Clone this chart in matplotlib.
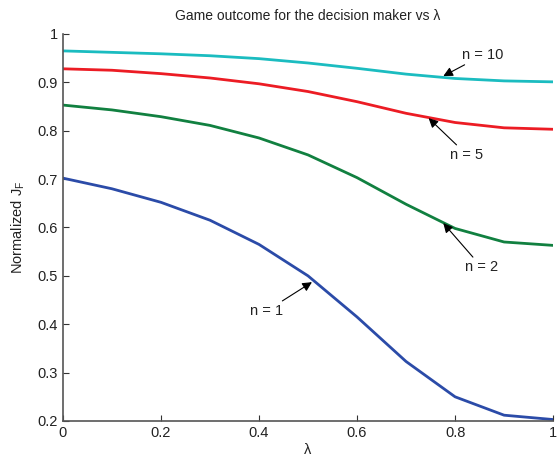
import matplotlib
matplotlib.use("Agg")
import matplotlib.pyplot as plt

plt.rcParams['font.family'] = ['Liberation Sans', 'DejaVu Sans']

lam = [0.0, 0.1, 0.2, 0.3, 0.4, 0.5, 0.6, 0.7, 0.8, 0.9, 1.0]
n10 = [0.965, 0.962, 0.959, 0.955, 0.949, 0.940, 0.929, 0.917, 0.908, 0.903, 0.901]
n5 = [0.928, 0.925, 0.918, 0.909, 0.897, 0.881, 0.860, 0.836, 0.817, 0.806, 0.803]
n2 = [0.853, 0.843, 0.829, 0.811, 0.785, 0.750, 0.703, 0.648, 0.598, 0.570, 0.563]
n1 = [0.702, 0.680, 0.652, 0.615, 0.565, 0.500, 0.415, 0.323, 0.250, 0.212, 0.203]

fig = plt.figure(figsize=(5.57, 4.59), dpi=100)
ax = fig.add_axes([0.113, 0.0828, 0.880, 0.8432])

ax.plot(lam, n10, color='#1bbcc0', lw=2.0)
ax.plot(lam, n5, color='#ec1c24', lw=2.0)
ax.plot(lam, n2, color='#118040', lw=2.0)
ax.plot(lam, n1, color='#2b4ba8', lw=2.0)

ax.set_xlim(0, 1)
ax.set_ylim(0.2, 1)
ax.set_xticks([0, 0.2, 0.4, 0.6, 0.8, 1])
ax.set_xticklabels(['0', '0.2', '0.4', '0.6', '0.8', '1'])
ax.set_yticks([0.2, 0.3, 0.4, 0.5, 0.6, 0.7, 0.8, 0.9, 1])
ax.set_yticklabels(['0.2', '0.3', '0.4', '0.5', '0.6', '0.7', '0.8', '0.9', '1'])
ax.tick_params(direction='in', labelsize=10.5, length=4, colors='#333333', labelcolor='#222222')
for s in ['top', 'right']:
    ax.spines[s].set_visible(False)
for s in ['left', 'bottom']:
    ax.spines[s].set_color('#555555')
    ax.spines[s].set_linewidth(1.2)

ax.set_title('Game outcome for the decision maker vs λ', fontsize=10, color='#222222', pad=10)
ax.set_xlabel('λ', fontsize=10.5, color='#222222', labelpad=2)
ax.set_ylabel('Normalized J$_\\mathregular{F}$', fontsize=10.5, color='#222222', labelpad=8)

ap = dict(arrowstyle='-|>', color='k', lw=0.8, mutation_scale=14, shrinkA=0, shrinkB=0)
fs = 10.5
ax.annotate('n = 10', xy=(0.776, 0.913), xytext=(0.815, 0.942), fontsize=fs, ha='left', va='bottom', arrowprops=ap, color='#222222')
ax.annotate('n = 5', xy=(0.746, 0.826), xytext=(0.79, 0.765), fontsize=fs, ha='left', va='top', arrowprops=ap, color='#222222')
ax.annotate('n = 2', xy=(0.776, 0.609), xytext=(0.82, 0.533), fontsize=fs, ha='left', va='top', arrowprops=ap, color='#222222')
ax.annotate('n = 1', xy=(0.508, 0.487), xytext=(0.45, 0.428), fontsize=fs, ha='right', va='center', arrowprops=ap, color='#222222')

fig.savefig('out.png', dpi=100)
